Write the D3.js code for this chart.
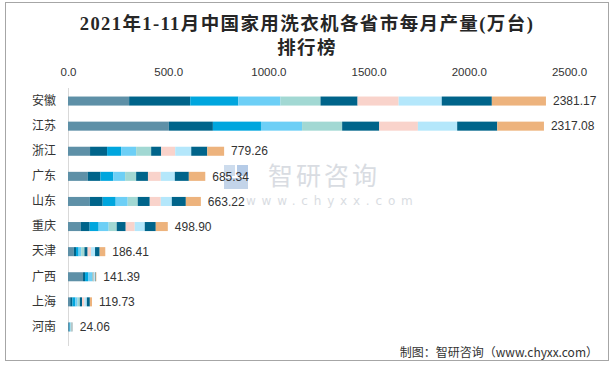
<!DOCTYPE html>
<html><head><meta charset="utf-8">
<script src="https://cdn.jsdelivr.net/npm/d3@7"></script>
<style>body{margin:0;background:#fff}svg{display:block}</style>
</head><body><svg id="c" width="615" height="368"></svg>
<script>
const provinces = ["安徽","江苏","浙江","广东","山东","重庆","天津","广西","上海","河南"];
const months = ["1-2月","3月","4月","5月","6月","7月","8月","9月","10月","11月"];
const totals = [2381.17,2317.08,779.26,685.34,663.22,498.90,186.41,141.39,119.73,24.06];
const m1_2 = [305,503,110,98,108,63,28,75,11,6];
const m3  = [305,220,85,64,65,45,12,10,11,2];
const m4  = [240,240,70,64,65,45,13,15,15,2];
const m5  = [210,205,75,59,60,50,13,20,11,3];
const m6  = [200,200,75,55,50,40,16,4,11,3];
const m7  = [185,185,50,59,60,45,16,3,11,2];
const m8  = [205,193,70,64,55,45,17,3,12,2];
const m9  = [215,196,80,70,55,50,20,5,12,2];
const m10 = [250,200,80,70,70,55,23,3,15,1];
const m11 = [270,233,84,82,75,60,28,3.39,10.73,1.06];
const seriesVals = [m1_2,m3,m4,m5,m6,m7,m8,m9,m10,m11];
const colors = ["#5e90a7","#00648a","#00a6de","#6dcff6","#a2d8d3","#00648a","#f9d3cb","#b4e7fb","#00648a","#edb37d"];
const ticks = [0,500,1000,1500,2000,2500];

const svg = d3.select("#c");
// outer border
svg.append("rect").attr("x",5.5).attr("y",2.5).attr("width",603).attr("height",358)
  .attr("fill","none").attr("stroke","#a6a6a6").attr("stroke-width",1);

// title
const title = svg.append("text").attr("text-anchor","middle")
  .attr("font-family","'Liberation Serif','Noto Sans CJK SC',serif").attr("font-weight","bold")
  .attr("font-size",18.5).attr("letter-spacing",1.4).attr("fill","#262626");
title.append("tspan").attr("x",307).attr("y",30).text("2021年1-11月中国家用洗衣机各省市每月产量(万台)");
title.append("tspan").attr("x",307).attr("y",54).text("排行榜");

const x = d3.scaleLinear().domain([0,2500]).range([68,569]);
const y = d3.scaleBand().domain(provinces).range([88.5,339.5]).paddingInner(0.64).paddingOuter(0.32);

// watermark
const wm = svg.append("g").attr("opacity",0.85);
wm.append("rect").attr("x",224).attr("y",165).attr("width",11).attr("height",11).attr("fill","#c5d6ea");
wm.append("rect").attr("x",237).attr("y",165).attr("width",11).attr("height",11).attr("fill","#a9c3e3");
wm.append("rect").attr("x",224).attr("y",178).attr("width",24).attr("height",11).attr("fill","#b9cde6");
wm.append("text").attr("x",268).attr("y",185).attr("font-family","'Noto Sans CJK SC',sans-serif")
  .attr("font-size",25).attr("letter-spacing",3).attr("fill","#d3d7dd").text("智研咨询");
wm.append("text").attr("x",246).attr("y",205).attr("font-family","'DejaVu Sans',sans-serif")
  .attr("font-size",12).attr("letter-spacing",5.8).attr("fill","#d3d7dd").text("www.chyxx.com");

// axis top
const xAxis = d3.axisTop(x).tickValues(ticks).tickFormat(d3.format(".1f")).tickSize(0).tickPadding(0);
const ax = svg.append("g").attr("transform","translate(0,76)").call(xAxis);
ax.select(".domain").remove();
ax.selectAll("text").attr("font-family","'Liberation Sans','Noto Sans',sans-serif").attr("font-size",11.5).attr("fill","#333");

// y axis line
svg.append("line").attr("x1",68.5).attr("x2",68.5).attr("y1",88).attr("y2",346).attr("stroke","#d9d9d9").attr("stroke-width",1);

// category labels
const yAxis = d3.axisLeft(y).tickSize(0).tickPadding(12);
const ay = svg.append("g").attr("transform","translate(68,0)").call(yAxis);
ay.select(".domain").remove();
ay.selectAll("text").attr("font-family","'Noto Sans CJK SC',sans-serif").attr("font-size",12).attr("fill","#333");

// stacked data
const table = provinces.map((p,i)=>{const o={p}; months.forEach((m,j)=>o[m]=seriesVals[j][i]); return o;});
const stacked = d3.stack().keys(months)(table);
svg.append("g").selectAll("g").data(stacked).join("g").attr("fill",(d,i)=>colors[i])
  .selectAll("rect").data(d=>d).join("rect")
  .attr("x",d=>x(d[0])).attr("width",d=>x(d[1])-x(d[0]))
  .attr("y",d=>y(d.data.p)).attr("height",y.bandwidth());

// value labels
svg.append("g").selectAll("text").data(table).join("text")
  .attr("x",(d,i)=>x(d3.sum(months,m=>d[m]))+7)
  .attr("y",d=>y(d.p)+y.bandwidth()/2).attr("dy","0.35em")
  .attr("font-family","'Liberation Sans','Noto Sans',sans-serif").attr("font-size",12).attr("fill","#333")
  .text((d,i)=>totals[i].toFixed(2));

// footer
svg.append("text").attr("x",598).attr("y",357).attr("text-anchor","end")
  .attr("font-family","'Noto Sans CJK SC',sans-serif").attr("font-size",12).attr("fill","#333")
  .text("制图：智研咨询（www.chyxx.com）");
</script></body></html>
